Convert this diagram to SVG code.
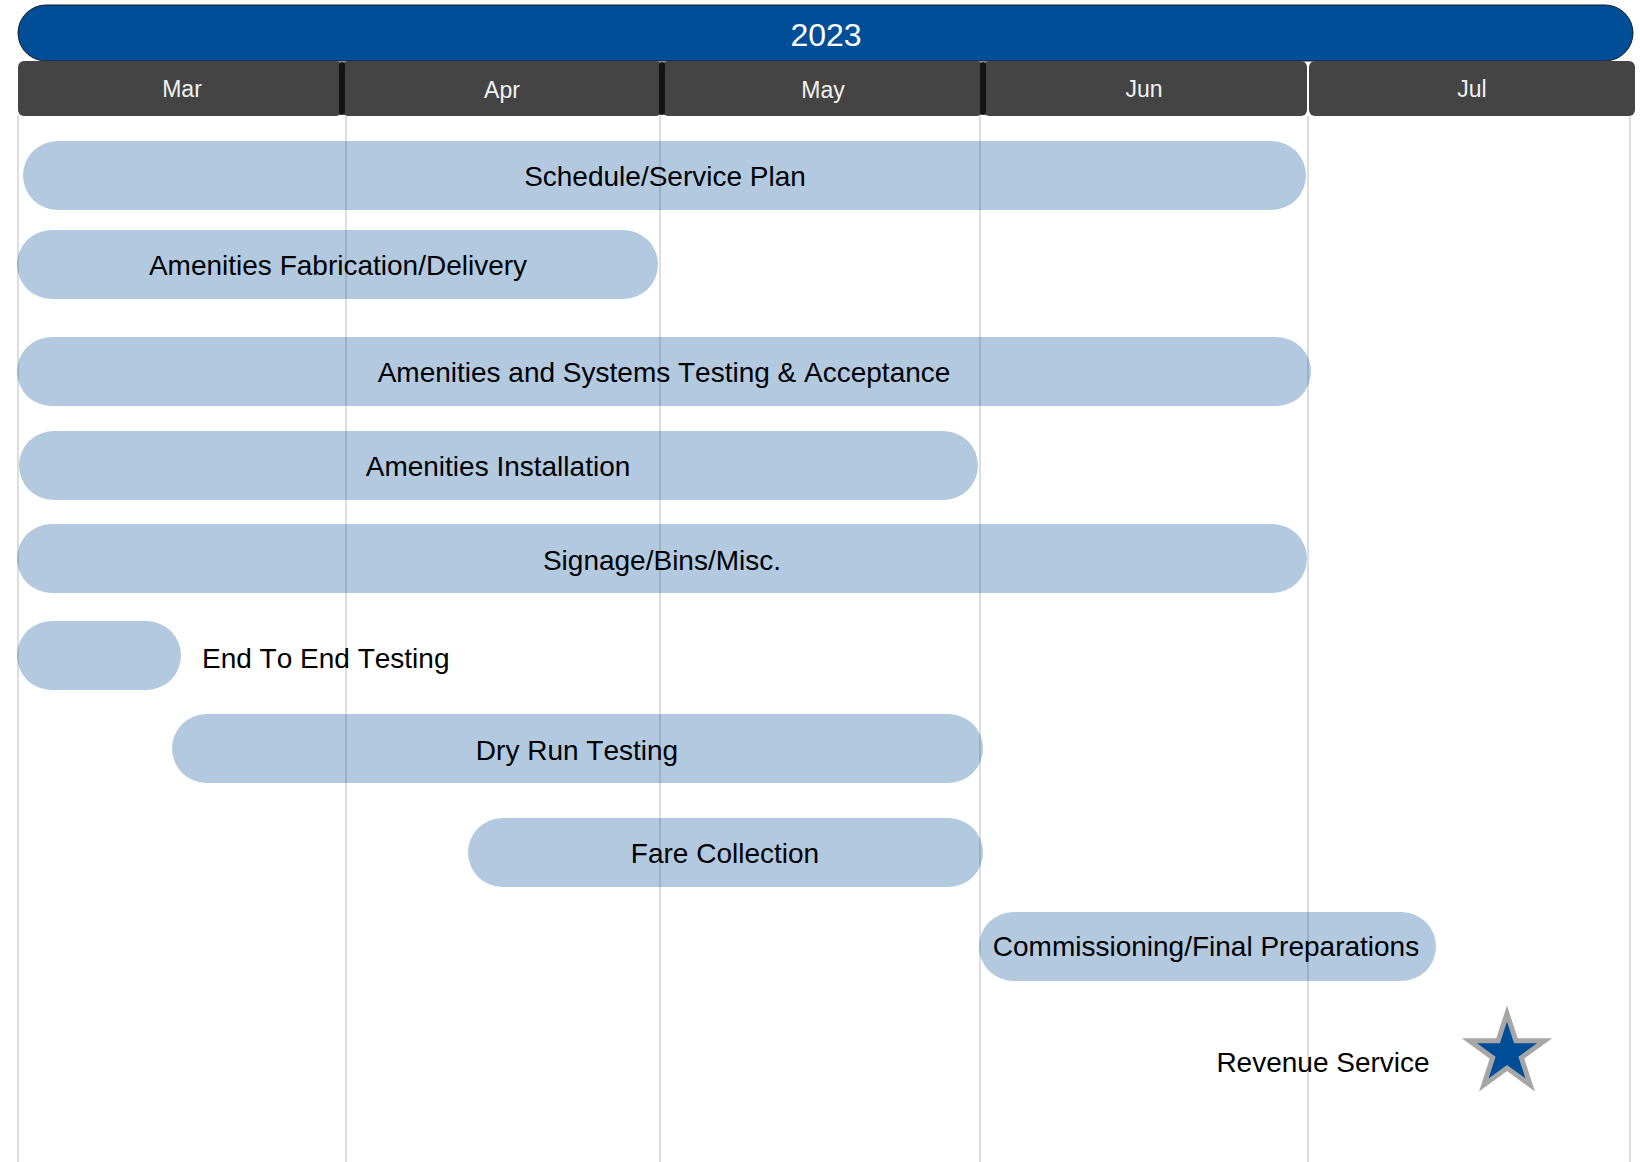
<svg xmlns="http://www.w3.org/2000/svg" width="1640" height="1162" viewBox="0 0 1640 1162">
  <style>
    text { font-kerning: none; }
    .year { fill: #004E98; stroke: #1a1a1a; stroke-width: 1; }
    .year-text { font-family: "Liberation Sans", Arial, sans-serif; font-size: 32px; fill: #ffffff; text-anchor: middle; }
    .month { fill: #444444; }
    .month-text { font-family: "Liberation Sans", Arial, sans-serif; font-size: 23px; fill: #f2f2f2; text-anchor: middle; }
    .sep { stroke: #141414; stroke-width: 6; stroke-linecap: round; }
    .grid { stroke: #d2d2d2; stroke-width: 1.5; }
    .bar { fill: #004C97; fill-opacity: 0.3; }
    .label { font-family: "Liberation Sans", Arial, sans-serif; font-size: 28px; fill: #000000; text-anchor: middle; }
    .label-left { text-anchor: start; }
    .star { fill: #004E98; stroke: #A6A6A6; stroke-width: 5; stroke-linejoin: miter; }
  </style>

  <rect width="1640" height="1162" fill="#ffffff"/>

  <!-- month grid lines -->
  <g id="grid">
    <line class="grid" x1="18" y1="116" x2="18" y2="1162"/>
    <line class="grid" x1="346" y1="116" x2="346" y2="1162"/>
    <line class="grid" x1="660" y1="116" x2="660" y2="1162"/>
    <line class="grid" x1="980" y1="116" x2="980" y2="1162"/>
    <line class="grid" x1="1308" y1="116" x2="1308" y2="1162"/>
    <line class="grid" x1="1630" y1="116" x2="1630" y2="1162"/>
  </g>

  <!-- timescale header -->
  <g id="year-2023">
    <rect class="year" x="18" y="5" width="1615" height="56" rx="28" ry="28"/>
    <text class="year-text" x="826" y="46">2023</text>
  </g>
  <g id="months">
    <rect class="month" x="18" y="61" width="324" height="55" rx="6" ry="6"/>
    <rect class="month" x="342" y="61" width="320" height="55" rx="6" ry="6"/>
    <rect class="month" x="662" y="61" width="321" height="55" rx="6" ry="6"/>
    <rect class="month" x="983" y="61" width="324" height="55" rx="6" ry="6"/>
    <rect class="month" x="1309" y="61" width="326" height="55" rx="6" ry="6"/>
    <line class="sep" x1="342" y1="65" x2="342" y2="112"/>
    <line class="sep" x1="662" y1="65" x2="662" y2="112"/>
    <line class="sep" x1="983" y1="65" x2="983" y2="112"/>
    <text class="month-text" x="182" y="97">Mar</text>
    <text class="month-text" x="502" y="98">Apr</text>
    <text class="month-text" x="823" y="98">May</text>
    <text class="month-text" x="1144" y="97">Jun</text>
    <text class="month-text" x="1472" y="97">Jul</text>
  </g>

  <!-- tasks -->
  <g id="task-schedule-service-plan">
    <rect class="bar" x="23" y="141" width="1283" height="69" rx="34.5" ry="34.5"/>
    <text class="label" x="665" y="186">Schedule/Service Plan</text>
  </g>
  <g id="task-amenities-fabrication">
    <rect class="bar" x="17" y="230" width="641" height="69" rx="34.5" ry="34.5"/>
    <text class="label" x="338" y="275">Amenities Fabrication/Delivery</text>
  </g>
  <g id="task-amenities-testing">
    <rect class="bar" x="17" y="337" width="1294" height="69" rx="34.5" ry="34.5"/>
    <text class="label" x="664" y="382">Amenities and Systems Testing &amp; Acceptance</text>
  </g>
  <g id="task-amenities-installation">
    <rect class="bar" x="19" y="431" width="959" height="69" rx="34.5" ry="34.5"/>
    <text class="label" x="498" y="476">Amenities Installation</text>
  </g>
  <g id="task-signage">
    <rect class="bar" x="17" y="524" width="1290" height="69" rx="34.5" ry="34.5"/>
    <text class="label" x="662" y="570">Signage/Bins/Misc.</text>
  </g>
  <g id="task-end-to-end-testing">
    <rect class="bar" x="17" y="621" width="164" height="69" rx="34.5" ry="34.5"/>
    <text class="label label-left" x="202" y="668">End To End Testing</text>
  </g>
  <g id="task-dry-run-testing">
    <rect class="bar" x="172" y="714" width="811" height="69" rx="34.5" ry="34.5"/>
    <text class="label" x="577" y="760">Dry Run Testing</text>
  </g>
  <g id="task-fare-collection">
    <rect class="bar" x="468" y="818" width="515" height="69" rx="34.5" ry="34.5"/>
    <text class="label" x="725" y="863">Fare Collection</text>
  </g>
  <g id="task-commissioning">
    <rect class="bar" x="979" y="912" width="457" height="69" rx="34.5" ry="34.5"/>
    <text class="label" x="1206" y="956">Commissioning/Final Preparations</text>
  </g>

  <!-- milestone: five-point star, outer radius 39.5, inner 15.1 -->
  <g id="milestone-revenue-service">
    <text class="label" x="1323" y="1072">Revenue Service</text>
    <polygon class="star" points="1507,1013.5 1515.87,1040.78 1544.57,1040.79 1521.36,1057.66 1530.22,1084.96 1507,1068.1 1483.78,1084.96 1492.64,1057.66 1469.43,1040.79 1498.13,1040.78"/>
  </g>

  <g id="connectors"></g>
</svg>
